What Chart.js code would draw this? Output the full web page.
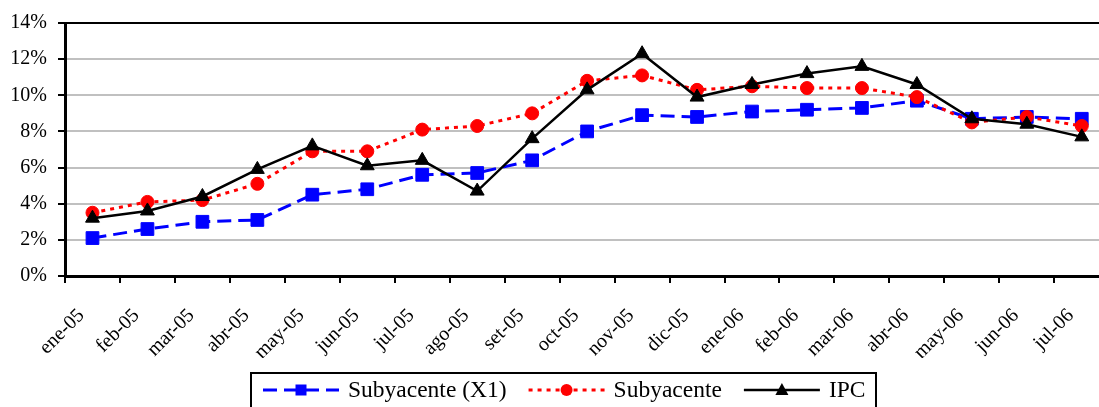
<!DOCTYPE html>
<html>
<head>
<meta charset="utf-8">
<script src="https://cdn.jsdelivr.net/npm/chart.js@4.4.0/dist/chart.umd.min.js"></script>
<style>
  html, body { margin: 0; padding: 0; background: #fff; overflow: hidden; }
  #contenedor { width: 1120px; height: 407px; }
</style>
</head>
<body>
<div id="contenedor"><canvas id="grafico" width="1120" height="407"></canvas></div>
<script>
// Datos (variación anual, %)
const meses = ['ene-05', 'feb-05', 'mar-05', 'abr-05', 'may-05', 'jun-05', 'jul-05', 'ago-05', 'set-05', 'oct-05',
               'nov-05', 'dic-05', 'ene-06', 'feb-06', 'mar-06', 'abr-06', 'may-06', 'jun-06', 'jul-06'];
const subyacenteX1 = [2.1, 2.6, 3.0, 3.1, 4.5, 4.8, 5.6, 5.7, 6.4, 8.0, 8.9, 8.8, 9.1, 9.2, 9.3, 9.7, 8.7, 8.8, 8.7];
const subyacente   = [3.5, 4.1, 4.2, 5.1, 6.9, 6.9, 8.1, 8.3, 9.0, 10.8, 11.1, 10.3, 10.5, 10.4, 10.4, 9.9, 8.5, 8.8, 8.3];
const ipc          = [3.2, 3.6, 4.4, 5.9, 7.2, 6.1, 6.4, 4.7, 7.6, 10.3, 12.3, 9.9, 10.6, 11.2, 11.6, 10.6, 8.7, 8.4, 7.7];
const ticksY = [0, 2, 4, 6, 8, 10, 12, 14];

const fuente = 'Liberation Serif, "Times New Roman", serif';

// Leyenda propia: línea + marcador, como en Excel
const leyendaPlugin = {
    id: 'leyenda',
    afterDraw(chart) {
        const ctx = chart.ctx;
        ctx.save();
        ctx.lineWidth = 2;
        ctx.strokeStyle = '#000';
        ctx.setLineDash([]);
        ctx.strokeRect(251, 373, 625, 60);

        ctx.font = '23.5px ' + fuente;
        ctx.textBaseline = 'middle';
        ctx.textAlign = 'left';
        let x = 263;
        const y = 390;
        chart.data.datasets.forEach(ds => {
            // línea de muestra
            ctx.beginPath();
            ctx.setLineDash(ds.borderDash || []);
            ctx.lineWidth = ds.borderWidth;
            ctx.strokeStyle = ds.borderColor;
            ctx.moveTo(x, y);
            ctx.lineTo(x + 76, y);
            ctx.stroke();
            ctx.setLineDash([]);
            // marcador
            const cx = x + 38;
            ctx.fillStyle = ds.pointBackgroundColor;
            ctx.beginPath();
            if (ds.pointStyle === 'rect') {
                ctx.rect(cx - 5.5, y - 5.5, 11, 11);
            } else if (ds.pointStyle === 'circle') {
                ctx.arc(cx, y, 6, 0, Math.PI * 2);
            } else {
                ctx.moveTo(cx, y - 7);
                ctx.lineTo(cx + 6.5, y + 5);
                ctx.lineTo(cx - 6.5, y + 5);
                ctx.closePath();
            }
            ctx.fill();
            // texto
            ctx.fillStyle = '#000';
            ctx.fillText(ds.label, x + 85, y + 1);
            x += 85 + ctx.measureText(ds.label).width + 22;
        });
        ctx.restore();
    }
};

const ctx = document.getElementById('grafico');
const grafico = new Chart(ctx, {
    type: 'line',
    data: {
        labels: meses,
        datasets: [{
            label: 'Subyacente (X1)',
            data: subyacenteX1,
            borderColor: '#0000ff',
            borderWidth: 3,
            borderDash: [14, 7],
            pointStyle: 'rect',
            pointRadius: 9,
            pointBackgroundColor: '#0000ff',
            pointBorderColor: '#0000ff',
            pointBorderWidth: 1,
            order: 3,
        }, {
            label: 'Subyacente',
            data: subyacente,
            borderColor: '#ff0000',
            borderWidth: 3,
            borderDash: [4, 5],
            pointStyle: 'circle',
            pointRadius: 6.5,
            pointBackgroundColor: '#ff0000',
            pointBorderColor: '#ff0000',
            pointBorderWidth: 1,
            order: 2,
        }, {
            label: 'IPC',
            data: ipc,
            borderColor: '#000000',
            borderWidth: 2.5,
            pointStyle: 'triangle',
            pointRadius: 8,
            pointBackgroundColor: '#000000',
            pointBorderColor: '#000000',
            pointBorderWidth: 1,
            order: 1,
        }],
    },
    options: {
        responsive: false,
        animation: false,
        events: [],
        layout: { padding: { top: 22, right: 6, bottom: 49, left: 0 } },
        elements: { line: { tension: 0 } },
        plugins: {
            legend: { display: false },
            tooltip: { enabled: false },
        },
        scales: {
            x: {
                offset: true,
                grid: { offset: true, drawOnChartArea: false, drawTicks: true, tickLength: 7, color: '#000', lineWidth: 2 },
                border: { display: true, color: '#000', width: 3 },
                ticks: {
                    autoSkip: false, maxRotation: 45, minRotation: 45, padding: 21, labelOffset: -11,
                    color: '#000', font: { family: fuente, size: 20 },
                },
                afterFit(scale) { scale.height = 82; },
            },
            y: {
                min: ticksY[0],
                max: ticksY[ticksY.length - 1],
                ticks: {
                    stepSize: ticksY[1] - ticksY[0],
                    callback: v => v + '%',
                    padding: 11,
                    color: '#000',
                    font: { family: fuente, size: 20 },
                },
                grid: {
                    color: c => (c.tick && c.tick.value === ticksY[ticksY.length - 1]) ? '#000' : '#c0c0c0',
                    lineWidth: 2,
                    tickLength: 7,
                    tickColor: '#000',
                    tickWidth: 2,
                },
                border: { display: true, color: '#000', width: 3 },
                afterFit(scale) { scale.width = 65; },
            },
        },
    },
    plugins: [leyendaPlugin],
});
</script>
</body>
</html>
